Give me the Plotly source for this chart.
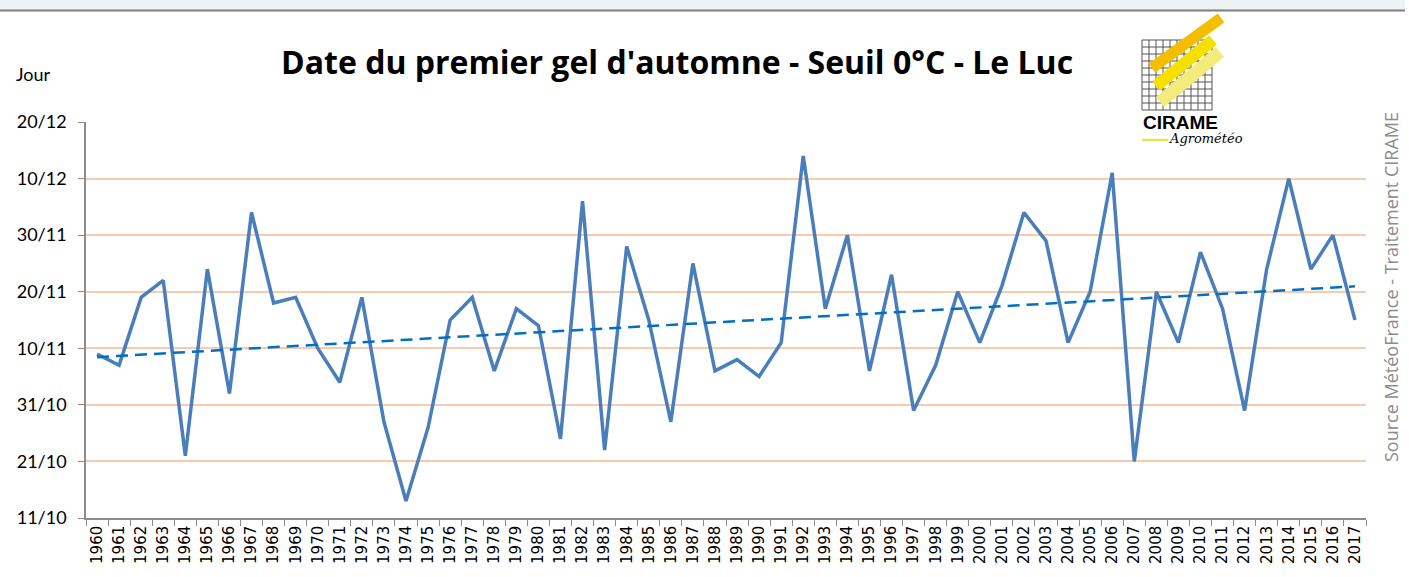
import numpy as np
import plotly.graph_objects as go
from datetime import date

years = list(range(1960, 2018))
first_frost = [
    "09/11", "07/11", "19/11", "22/11", "22/10", "24/11", "02/11", "04/12", "18/11", "19/11",
    "10/11", "04/11", "19/11", "28/10", "14/10", "27/10", "15/11", "19/11", "06/11", "17/11",
    "14/11", "25/10", "06/12", "23/10", "28/11", "15/11", "28/10", "25/11", "06/11", "08/11",
    "05/11", "11/11", "14/12", "17/11", "30/11", "06/11", "23/11", "30/10", "07/11", "20/11",
    "11/11", "21/11", "04/12", "29/11", "11/11", "20/11", "11/12", "21/10", "20/11", "11/11",
    "27/11", "17/11", "30/10", "24/11", "10/12", "24/11", "30/11", "15/11",
]
tick_labels = ["11/10", "21/10", "31/10", "10/11", "20/11", "30/11", "10/12", "20/12"]
title_text = "Date du premier gel d'automne - Seuil 0°C - Le Luc"
y_title = "Jour"
source_text = "Source MétéoFrance - Traitement CIRAME"

ORIGIN = date(2000, 10, 11)


def to_days(s):
    d, m = (int(v) for v in s.split("/"))
    return (date(2000, m, d) - ORIGIN).days


y = [to_days(s) for s in first_frost]
tick_vals = [to_days(s) for s in tick_labels]
x = [str(v) for v in years]

idx = np.arange(len(years))
slope, intercept = np.polyfit(idx, y, 1)
trend = slope * idx + intercept

W, H = 1409, 577
L, R, T, B = 86, 43, 122, 59
PW, PH = W - L - R, H - T - B


def px(xv):
    return (xv - L) / PW


def py(yv):
    return (H - B - yv) / PH


fig = go.Figure()
fig.add_trace(go.Scatter(x=x, y=y, mode="lines",
                         line=dict(color="#4a7ebb", width=3.5),
                         hoverinfo="x+text", text=first_frost, showlegend=False))
fig.add_trace(go.Scatter(x=x, y=trend, mode="lines",
                         line=dict(color="#0070c0", width=2.5, dash="12px,7px"),
                         hoverinfo="skip", showlegend=False))

shapes = []
# top window band
shapes.append(dict(type="rect", xref="paper", yref="paper", x0=px(0), x1=px(1405), y0=py(10), y1=py(0),
                   fillcolor="#eef2f5", line=dict(width=0), layer="above"))
shapes.append(dict(type="line", xref="paper", yref="paper", x0=px(0), x1=px(1405), y0=py(10.5), y1=py(10.5),
                   line=dict(color="#7f7f7f", width=2), layer="above"))
# logo white background
shapes.append(dict(type="rect", xref="paper", yref="paper", x0=px(1137), x1=px(1250), y0=py(145), y1=py(14),
                   fillcolor="white", line=dict(width=0), layer="above"))
# logo grid
gx0, gx1, gy0, gy1 = 1142, 1212, 40, 110
n = 10
for i in range(n + 1):
    xx = gx0 + (gx1 - gx0) * i / n
    shapes.append(dict(type="line", xref="paper", yref="paper", x0=px(xx), x1=px(xx), y0=py(gy0), y1=py(gy1),
                       line=dict(color="#555555", width=1), layer="above"))
    yy = gy0 + (gy1 - gy0) * i / n
    shapes.append(dict(type="line", xref="paper", yref="paper", x0=px(gx0), x1=px(gx1), y0=py(yy), y1=py(yy),
                       line=dict(color="#555555", width=1), layer="above"))
# yellow stripes
for (a, b, c, d, col, w) in [
    (1152, 68, 1221, 18, "#f5bd00", 11),
    (1156, 86, 1213, 40, "#f7df00", 12),
    (1160, 102, 1220, 52, "#f3ec7a", 13),
]:
    shapes.append(dict(type="line", xref="paper", yref="paper", x0=px(a), x1=px(c), y0=py(b), y1=py(d),
                       line=dict(color=col, width=w), layer="above"))
# yellow underline in logo
shapes.append(dict(type="line", xref="paper", yref="paper", x0=px(1142), x1=px(1168), y0=py(140), y1=py(140),
                   line=dict(color="#e6e05a", width=2.5), layer="above"))

annotations = [
    dict(text=f"<b>{title_text}</b>", xref="paper", yref="paper", x=px(677), y=py(62),
         xanchor="center", yanchor="middle", showarrow=False,
         font=dict(family="Open Sans", size=32, color="black")),
    dict(text=y_title, xref="paper", yref="paper", x=px(14), y=py(74),
         xanchor="left", yanchor="middle", showarrow=False,
         font=dict(family="Lato", size=18, color="black")),
    dict(text=source_text, xref="paper", yref="paper", x=px(1391), y=py(287),
         xanchor="center", yanchor="middle", textangle=-90, showarrow=False,
         font=dict(family="Open Sans", size=18, color="#8c8c8c")),
    dict(text="<b>CIRAME</b>", xref="paper", yref="paper", x=px(1141), y=py(123),
         xanchor="left", yanchor="middle", showarrow=False,
         font=dict(family="Liberation Sans", size=19, color="black")),
    dict(text="<i>Agrométéo</i>", xref="paper", yref="paper", x=px(1167), y=py(138),
         xanchor="left", yanchor="middle", showarrow=False,
         font=dict(family="DejaVu Serif", size=13, color="black")),
]

fig.update_layout(
    width=W, height=H,
    margin=dict(l=L, r=R, t=T, b=B),
    paper_bgcolor="white", plot_bgcolor="white",
    shapes=shapes, annotations=annotations,
    showlegend=False,
    xaxis=dict(type="category", range=[-0.5, len(years) - 0.5],
               showgrid=False, showline=True, linecolor="#8c8c8c", linewidth=1.5,
               ticks="outside", tickson="boundaries", ticklen=6, tickcolor="#8c8c8c",
               tickangle=-90, tickfont=dict(family="DejaVu Sans", size=15, color="black"),
               zeroline=False, fixedrange=True),
    yaxis=dict(range=[0, 70], tickvals=tick_vals, ticktext=tick_labels,
               showgrid=True, gridcolor="#f8cbad", gridwidth=1.5,
               showline=True, linecolor="#8c8c8c", linewidth=1.5,
               ticks="outside", ticklen=6, tickcolor="#8c8c8c", ticklabelstandoff=8,
               tickfont=dict(family="Lato", size=18, color="black"),
               zeroline=False, fixedrange=True),
)

fig.write_html("out.html", config={"displayModeBar": False},
               post_script="document.body.style.margin='0';document.body.style.overflow='hidden';")
